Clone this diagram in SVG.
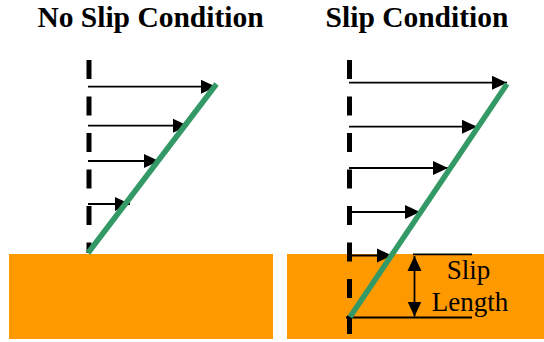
<svg xmlns="http://www.w3.org/2000/svg" width="544" height="342" viewBox="0 0 544 342">
<style>
.title{font-weight:bold;font-size:29.5px;fill:#000;text-anchor:middle}
.lbl{font-size:27px;fill:#000;text-anchor:middle}
.wall{fill:#FF9900}
.axis{stroke:#000;stroke-width:5;stroke-dasharray:19 17.5;fill:none}
.prof{stroke:#339966;stroke-width:5.5;stroke-linecap:butt}
.arr{stroke:#000;stroke-width:1.8;fill:none;marker-end:url(#ah)}
.thin{stroke:#000;stroke-width:1.8}
</style>
<defs>
<marker id="ah" markerUnits="userSpaceOnUse" markerWidth="15" markerHeight="15" refX="15" refY="7" orient="auto-start-reverse" viewBox="0 0 15 14">
<path d="M0,0 L15,7 L0,14 z" fill="#000"/>
</marker>
</defs>
<rect width="544" height="342" fill="#fff"/>
<g id="title-left"><text class="title" font-family="Liberation Serif, DejaVu Serif, serif" x="150.5" y="27">No Slip Condition</text></g>
<g id="title-right"><text class="title" font-family="Liberation Serif, DejaVu Serif, serif" x="417" y="27">Slip Condition</text></g>
<g id="wall-left"><rect class="wall" x="9" y="254" width="264" height="85"/></g>
<g id="wall-right"><rect class="wall" x="287" y="254" width="257" height="85"/></g>
<g id="axis-left"><line class="axis" x1="89" y1="60" x2="89" y2="253"/></g>
<g id="axis-right"><line class="axis" x1="349.5" y1="60" x2="349.5" y2="334"/></g>
<g id="connectors">
<line class="arr" x1="88" y1="86.7" x2="216" y2="86.7"/>
<line class="arr" x1="88" y1="125.7" x2="188" y2="125.7"/>
<line class="arr" x1="88" y1="161" x2="159" y2="161"/>
<line class="arr" x1="88" y1="204" x2="130" y2="204"/>
<line class="arr" x1="349" y1="82.7" x2="507" y2="82.7"/>
<line class="arr" x1="349" y1="126.7" x2="477" y2="126.7"/>
<line class="arr" x1="349" y1="168" x2="448" y2="168"/>
<line class="arr" x1="349" y1="212" x2="420" y2="212"/>
<line class="arr" x1="349" y1="255.5" x2="392" y2="255.5"/>
<line class="thin" x1="413" y1="254.3" x2="472" y2="254.3"/>
<line class="thin" x1="346" y1="317.5" x2="472" y2="317.5"/>
<line class="arr" x1="414.5" y1="256" x2="414.5" y2="316.5" style="marker-start:url(#ah)"/>
</g>
<g id="profile-left"><line class="prof" x1="88" y1="253" x2="216.5" y2="84"/></g>
<g id="profile-right"><line class="prof" x1="350" y1="317" x2="507" y2="84"/></g>
<g id="label-slip-length">
<text class="lbl" font-family="Liberation Serif, DejaVu Serif, serif" x="468.5" y="279">Slip</text>
<text class="lbl" font-family="Liberation Serif, DejaVu Serif, serif" x="470" y="310.7">Length</text>
</g>
</svg>
